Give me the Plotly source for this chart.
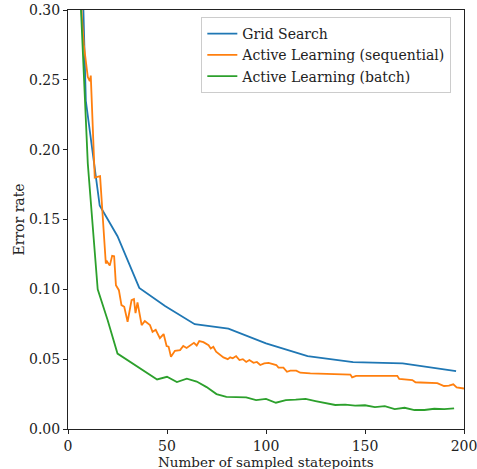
import plotly.graph_objects as go

# Grid Search
grid_x = [4, 9, 16, 25, 36, 49, 64, 81, 100, 121, 144, 169, 196]
grid_y = [0.50, 0.235, 0.160, 0.138, 0.101, 0.088, 0.075, 0.0718, 0.0613, 0.0522, 0.0479, 0.0470, 0.0415]

# Active Learning (sequential)
seq_x = [3, 5, 7, 8, 10, 11, 11.5, 13.5, 16.2, 19.1, 19.7, 21.1, 22.3, 23.3, 24.2, 25.7, 27, 28.4,
         30.1, 32.1, 33.3, 34.1, 35.1, 37.2, 38.8, 41.4, 42.7, 44.3, 46.4, 48.3, 49.8, 50.8, 52,
         54, 56.6, 58.2, 59.9, 61.6, 63.6, 65, 66.3, 68.4, 69.8, 71, 72.1, 73.4, 74.8, 76.8, 78.5,
         80.7, 81.9, 83.2, 84.9, 86.6, 88.3, 90, 91.6, 93.7, 95.4, 97.1, 99.1, 101.3, 103.5, 105.2,
         106.3, 108.8, 110.6, 112.3, 115.3, 117.3, 122.4, 132.5, 142.6, 143.5, 145.5, 166.3, 167.3,
         173.9, 175.5, 178, 186.5, 189.9, 192.4, 194.6, 196.3, 200]
seq_y = [0.50, 0.36, 0.295, 0.275, 0.252, 0.249, 0.253, 0.180, 0.181, 0.1185, 0.120, 0.117, 0.124,
         0.1237, 0.103, 0.0994, 0.0887, 0.0875, 0.0768, 0.0923, 0.093, 0.083, 0.0906, 0.0744,
         0.0773, 0.0744, 0.0696, 0.071, 0.065, 0.068, 0.0594, 0.059, 0.0517, 0.056, 0.0565, 0.0594,
         0.058, 0.060, 0.0617, 0.0598, 0.063, 0.0622, 0.0608, 0.060, 0.0577, 0.0589, 0.0553, 0.0534,
         0.0513, 0.050, 0.0513, 0.0506, 0.0522, 0.0494, 0.050, 0.048, 0.0494, 0.0474, 0.048, 0.0458,
         0.047, 0.0474, 0.0465, 0.0458, 0.044, 0.044, 0.041, 0.0418, 0.0418, 0.0403, 0.0398, 0.0393,
         0.039, 0.037, 0.0381, 0.0381, 0.0358, 0.035, 0.0334, 0.0333, 0.0329, 0.0308, 0.031, 0.032,
         0.0298, 0.029]

# Active Learning (batch)
batch_x = [5, 10, 15, 20, 25, 30, 35, 40, 45, 50, 55, 60, 65, 70, 75, 80, 85, 90, 95, 100, 105,
           110, 115, 120, 125, 130, 135, 140, 145, 150, 155, 160, 165, 170, 175, 180, 185, 190, 195]
batch_y = [0.35, 0.19, 0.100, 0.078, 0.054, 0.0495, 0.045, 0.040, 0.0355, 0.0374, 0.0336, 0.036,
           0.034, 0.030, 0.025, 0.023, 0.023, 0.0227, 0.0207, 0.0215, 0.0188, 0.0207, 0.021, 0.0215,
           0.020, 0.0185, 0.0172, 0.0174, 0.0167, 0.017, 0.0157, 0.0164, 0.0143, 0.0152, 0.0136,
           0.0136, 0.0145, 0.0143, 0.0148]

x_ticks = [0, 50, 100, 150, 200]
y_ticks = [0.00, 0.05, 0.10, 0.15, 0.20, 0.25, 0.30]
x_title = "Number of sampled statepoints"
y_title = "Error rate"

FONT = "DejaVu Serif"
TXT = "#222"

fig = go.Figure()
fig.add_trace(go.Scatter(x=grid_x, y=grid_y, mode="lines", name="Grid Search",
                         line=dict(color="#1f77b4", width=1.8)))
fig.add_trace(go.Scatter(x=seq_x, y=seq_y, mode="lines", name="Active Learning (sequential)",
                         line=dict(color="#ff7f0e", width=1.8)))
fig.add_trace(go.Scatter(x=batch_x, y=batch_y, mode="lines", name="Active Learning (batch)",
                         line=dict(color="#2ca02c", width=1.8)))

axis_common = dict(ticks="outside", ticklen=4, tickcolor=TXT, tickwidth=1, showline=True,
                   linecolor=TXT, linewidth=1, mirror=True, showgrid=False, zeroline=False,
                   automargin=False, ticklabeloverflow="allow",
                   tickfont=dict(family=FONT, size=14, color=TXT))

fig.update_layout(
    width=477, height=469,
    margin=dict(l=68, r=13, t=10, b=40),
    paper_bgcolor="white", plot_bgcolor="white",
    font=dict(family=FONT, size=14, color=TXT),
    showlegend=True,
    legend=dict(x=0.968, y=0.983, xanchor="right", yanchor="top",
                bgcolor="rgba(255,255,255,0.8)", bordercolor="#cccccc", borderwidth=1,
                font=dict(family=FONT, size=14, color=TXT), tracegroupgap=0,
                itemwidth=30),
    xaxis=dict(range=[0, 200], tickvals=x_ticks, ticktext=[str(v) for v in x_ticks],
               **axis_common),
    yaxis=dict(range=[0, 0.30], tickvals=y_ticks, ticktext=[f"{v:.2f}" for v in y_ticks],
               **axis_common),
    annotations=[
        dict(text=x_title, xref="paper", yref="paper", x=0.5, y=0, xanchor="center",
             yanchor="top", yshift=-23, showarrow=False,
             font=dict(family=FONT, size=13.5, color=TXT)),
        dict(text=y_title, xref="paper", yref="paper", x=0, y=0.5, xanchor="center",
             yanchor="middle", xshift=-50, textangle=-90, showarrow=False,
             font=dict(family=FONT, size=14, color=TXT)),
    ],
)

fig.write_html("out.html")
